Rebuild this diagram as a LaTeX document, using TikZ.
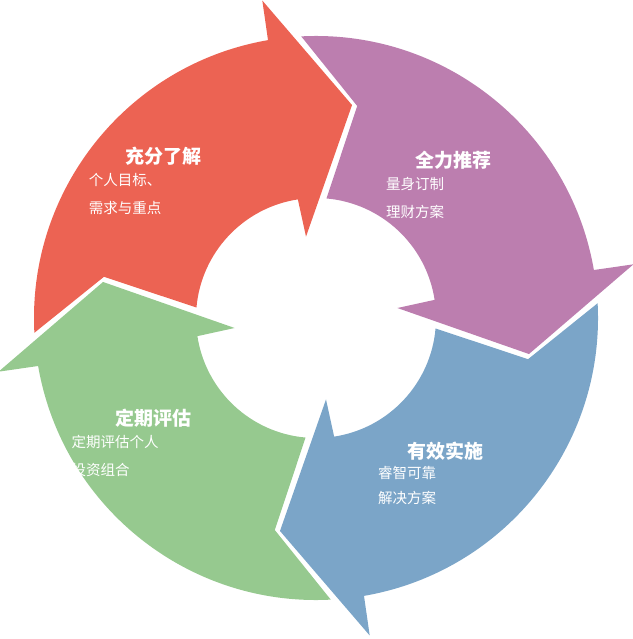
\documentclass[tikz,border=0pt]{standalone}
\usepackage{fontspec}
\setmainfont{Noto Sans CJK SC}
\usetikzlibrary{positioning}
\definecolor{stepred}{HTML}{EC6353}
\definecolor{steppurple}{HTML}{BC7EAF}
\definecolor{stepblue}{HTML}{7BA5C8}
\definecolor{stepgreen}{HTML}{96C98F}
\begin{document}
\begin{tikzpicture}[
            x=1pt, y=1pt,
            title/.style={anchor=west, text=white, font=\fontsize{19}{22}\selectfont\bfseries, inner sep=0},
            sub/.style={anchor=north west, text=white, align=left, font=\fontsize{14.5}{28}\selectfont, inner sep=0}
        ]
        \useasboundingbox (0,0) rectangle (632,-639);

        % four arrows, each turned by 90 degrees
        \begin{scope}[shift={(316,-318)}]
        \foreach \col/\rot in {stepred/0, steppurple/-90, stepblue/-180, stepgreen/-270} {
            \fill[\col, rotate=\rot] (183:282) arc[start angle=183, end angle=99.8, radius=282]
                -- (99.6:322) -- (80.4:216) -- (97:82) -- (98.7:120)
                arc[start angle=98.7, end angle=175, radius=120] -- (169:216) -- cycle;
        }
        \end{scope}

        \node[title] (redtitle) at (125,-156) {充分了解};
        \node[sub, below=8 of redtitle.south west] (redsub) {个人目标、\\需求与重点};

        \node[title] (purpletitle) at (415,-160) {全力推荐};
        \node[sub, below=8 of purpletitle.south west] (purplesub) {量身订制\\理财方案};

        \node[title] (greentitle) at (115,-418) {定期评估};
        \node[sub, below=8 of greentitle.south west] (greensub) {定期评估个人\\投资组合};

        \node[title] (bluetitle) at (407,-451) {有效实施};
        \node[sub, below=6 of bluetitle.south west, font=\fontsize{14.5}{25}\selectfont] (bluesub) {睿智可靠\\解决方案};
    \end{tikzpicture}
\end{document}
